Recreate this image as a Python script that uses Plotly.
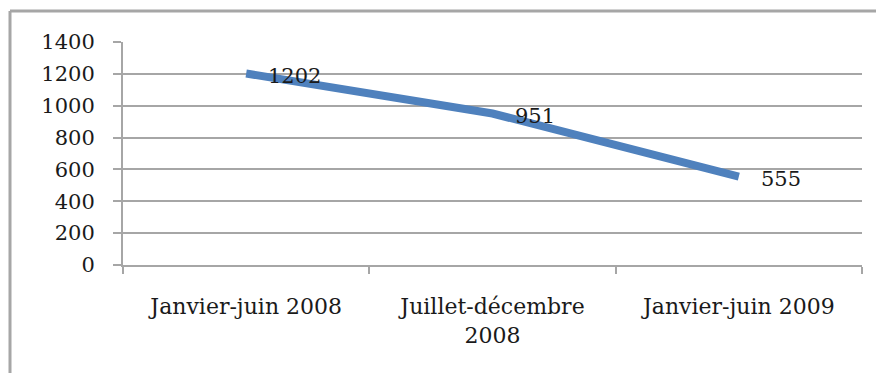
import plotly.graph_objects as go

categories = ["Janvier-juin 2008", "Juillet-décembre<br>2008", "Janvier-juin 2009"]
values = [1202, 951, 555]
labels = ["1202", "951", "555"]
y_ticks = [0, 200, 400, 600, 800, 1000, 1200, 1400]

FONT = "DejaVu Serif"
GRID = "#A6A6A6"
TXT = "#1a1a1a"

fig = go.Figure()
fig.add_trace(go.Scatter(
    x=categories, y=values, mode="lines",
    line=dict(color="#4F81BD", width=8, shape="linear"),
    showlegend=False, hoverinfo="skip",
))

annotations = [
    dict(x=c, y=v, xref="x", yref="y", text=t, showarrow=False,
         xanchor="left", yanchor="middle", xshift=20, yshift=-2,
         font=dict(family=FONT, size=21, color=TXT))
    for c, v, t in zip(categories, values, labels)
]

fig.update_layout(
    width=876, height=373,
    margin=dict(l=123, r=14, t=42, b=108),
    paper_bgcolor="white", plot_bgcolor="white",
    font=dict(family=FONT, size=21, color=TXT),
    annotations=annotations,
    xaxis=dict(
        type="category", range=[-0.5, 2.5], tickson="boundaries",
        ticks="outside", ticklen=7, tickcolor=GRID, tickwidth=2,
        showgrid=False, showline=True, linecolor=GRID, linewidth=2,
        zeroline=False, ticklabelstandoff=21,
        tickfont=dict(family=FONT, size=22, color=TXT),
    ),
    yaxis=dict(
        range=[0, 1400], tickvals=y_ticks, ticktext=[str(v) for v in y_ticks],
        ticks="outside", ticklen=8, tickcolor=GRID, tickwidth=2,
        showgrid=True, gridcolor=GRID, gridwidth=2,
        showline=True, linecolor=GRID, linewidth=2,
        zeroline=False, ticklabelstandoff=14,
        tickfont=dict(family=FONT, size=21, color=TXT),
    ),
    shapes=[
        dict(type="line", xref="paper", yref="paper",
             x0=(10 - 123) / 739, x1=(880 - 123) / 739,
             y0=(265 - 11) / 223, y1=(265 - 11) / 223,
             line=dict(color="#A6A6A6", width=3)),
        dict(type="line", xref="paper", yref="paper",
             x0=(10 - 123) / 739, x1=(10 - 123) / 739,
             y0=(265 - 11) / 223, y1=(265 - 380) / 223,
             line=dict(color="#A6A6A6", width=3)),
    ],
)

fig.write_html("out.html")
